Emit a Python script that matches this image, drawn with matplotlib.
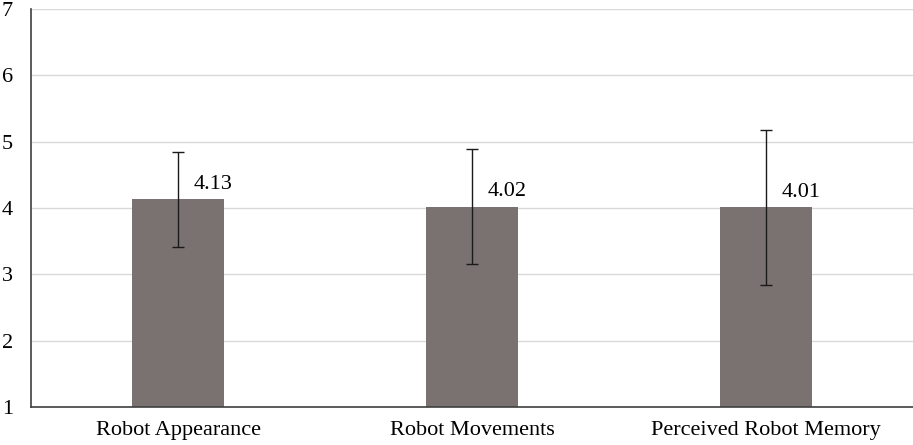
import numpy as np
import matplotlib.pyplot as plt

categories = ['Robot Appearance', 'Robot Movements', 'Perceived Robot Memory']
means = [4.13, 4.02, 4.01]
errors = [0.72, 0.87, 1.17]
value_labels = ['4.13', '4.02', '4.01']

plt.rcParams['font.family'] = ['Liberation Serif', 'DejaVu Serif']

fig = plt.figure(figsize=(9.13, 4.45), dpi=100)
ax = fig.add_axes([31/913, 38/445, 882/913, 398/445])

x = np.arange(len(categories))
ax.bar(x, np.array(means) - 1, bottom=1, width=0.313, color='#7a7270', zorder=2)
ax.errorbar(x, means, yerr=errors, fmt='none', ecolor='#1a1a1a', elinewidth=1,
            capsize=4, capthick=1, zorder=3)

for xi, m, lab in zip(x, means, value_labels):
    ax.annotate(lab, (xi, m), xytext=(11.5, 4), textcoords='offset points',
                ha='left', va='bottom', fontsize=16)

ax.set_xlim(-0.5, 2.5)
ax.set_ylim(1, 7)
ax.set_yticks(range(1, 8))
ax.set_xticks(x)
ax.set_xticklabels(categories)
ax.tick_params(axis='both', length=0, labelsize=16)
ax.tick_params(axis='y', pad=13)
ax.tick_params(axis='x', pad=10)
ax.yaxis.grid(True, color='#d9d9d9', linewidth=1, zorder=0)
ax.set_axisbelow(True)
for s in ['top', 'right']:
    ax.spines[s].set_visible(False)
for s in ['left', 'bottom']:
    ax.spines[s].set_color('#404040')
    ax.spines[s].set_linewidth(1.2)

fig.savefig('out.png', dpi=100)
